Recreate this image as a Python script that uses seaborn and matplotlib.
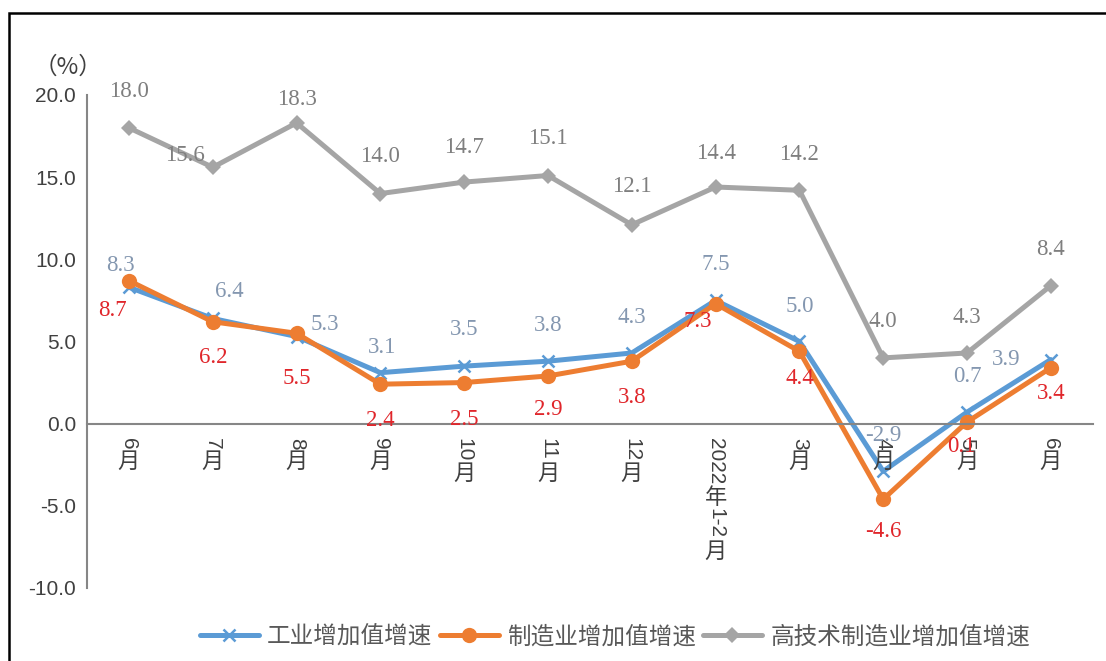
import numpy as np
import pandas as pd
import matplotlib
matplotlib.use("Agg")
import matplotlib.pyplot as plt
import seaborn as sns
from matplotlib.lines import Line2D
from matplotlib.patches import Rectangle

# Data
months = ["6月", "7月", "8月", "9月", "10月", "11月", "12月",
          "2022年1-2月", "3月", "4月", "5月", "6月"]
industry = [8.3, 6.4, 5.3, 3.1, 3.5, 3.8, 4.3, 7.5, 5.0, -2.9, 0.7, 3.9]
manufacturing = [8.7, 6.2, 5.5, 2.4, 2.5, 2.9, 3.8, 7.3, 4.4, -4.6, 0.1, 3.4]
hightech = [18.0, 15.6, 18.3, 14.0, 14.7, 15.1, 12.1, 14.4, 14.2, 4.0, 4.3, 8.4]
series_names = ["工业增加值增速", "制造业增加值增速", "高技术制造业增加值增速"]
y_ticks = [-10.0, -5.0, 0.0, 5.0, 10.0, 15.0, 20.0]

# label offsets in pixels (dx, dy)
off_ind = [(-9, 22), (17, 27), (28, 12), (2, 25), (0, 37), (0, 36), (0, 35),
           (0, 36), (0, 35), (0, 36), (0, 36), (-45, 0)]
off_man = [(-17, -30), (0, -36), (0, -45), (0, -36), (0, -37), (0, -34),
           (0, -36), (-18, -18), (0, -27), (0, -32), (-6, -25), (0, -26)]
off_hi = [(0, 36), (-28, 12), (0, 23), (0, 37), (0, 35), (0, 37), (0, 38),
          (0, 34), (0, 36), (0, 36), (0, 35), (0, 36)]

sns.set_style("white")
plt.rcParams["font.family"] = ["Noto Sans CJK SC", "DejaVu Sans"]

x = np.arange(len(months))
df = pd.DataFrame({"x": np.tile(x, 3),
                   "value": industry + manufacturing + hightech,
                   "series": np.repeat(series_names, len(months))})

colors = {series_names[0]: "#5B9BD5", series_names[1]: "#ED7D31",
          series_names[2]: "#A5A5A5"}
markers = {series_names[0]: "x", series_names[1]: "o", series_names[2]: "D"}
msizes = {series_names[0]: 9, series_names[1]: 11, series_names[2]: 8}

fig = plt.figure(figsize=(11.06, 6.61), dpi=100)
ax = fig.add_axes([0.0787, 0.1105, 0.9093, 0.7458])

for name in [series_names[2], series_names[0], series_names[1]]:
    sub = df[df["series"] == name]
    sns.lineplot(data=sub, x="x", y="value", ax=ax, color=colors[name],
                 linewidth=3.6, marker=markers[name], markersize=msizes[name],
                 markeredgewidth=1.8 if name == series_names[0] else 0,
                 markeredgecolor=colors[name], legend=False)

ax.set_xlim(-0.5, len(months) - 0.5)
ax.set_ylim(-10, 20)
ax.set_yticks(y_ticks)
ax.set_yticklabels([f"{v:.1f}" for v in y_ticks], fontsize=15,
                   color="#404040", family="Liberation Sans")
ax.set_xlabel("")
ax.set_ylabel("")
for s in ["top", "right"]:
    ax.spines[s].set_visible(False)
ax.spines["bottom"].set_position(("data", 0))
for s in ["left", "bottom"]:
    ax.spines[s].set_color("#868686")
    ax.spines[s].set_linewidth(1.5)
ax.set_xticks(np.arange(-0.5, len(months), 1.0))
ax.set_xticklabels([])
ax.tick_params(axis="x", direction="in", length=8, width=1.5, color="#868686")
ax.tick_params(axis="y", direction="in", length=7, width=1.5, color="#868686",
               pad=8)

# vertical category labels: digits rotated, CJK upright
def segments(label):
    segs, cur = [], ""
    for ch in label:
        if ord(ch) < 128:
            cur += ch
        else:
            if cur:
                segs.append((cur, True))
                cur = ""
            segs.append((ch, False))
    if cur:
        segs.append((cur, True))
    return segs

fs = 15
for i, lab in enumerate(months):
    pos = 10.0
    for seg, rot in segments(lab):
        if rot:
            ax.annotate(seg, xy=(i, 0), xytext=(0, -pos), textcoords="offset points",
                        rotation=-90, ha="center", va="top", fontsize=fs,
                        color="#404040", family=["Liberation Sans", "DejaVu Sans"],
                        annotation_clip=False)
            pos += sum(0.36 if c == "-" else 0.58 for c in seg) * fs
        else:
            ax.annotate(seg, xy=(i, 0), xytext=(0, -pos), textcoords="offset points",
                        ha="center", va="top", fontsize=fs + 1, color="#404040",
                        annotation_clip=False)
            pos += 1.08 * fs

# data labels
def put_labels(vals, offs, color):
    for i, (v, (dx, dy)) in enumerate(zip(vals, offs)):
        ax.annotate(f"{v:.1f}", xy=(i, v), xytext=(dx * 0.72, dy * 0.72),
                    textcoords="offset points", ha="center", va="center",
                    fontsize=16.5, color=color, family="Liberation Serif",
                    annotation_clip=False)

put_labels(hightech, off_hi, "#7F7F7F")
put_labels(industry, off_ind, "#8497B0")
put_labels(manufacturing, off_man, "#E0262B")

fig.text(0.03, 0.898, "（%）", fontsize=17, color="#404040", ha="left",
         va="center")

handles = [Line2D([], [], color=colors[n], linewidth=3.6, marker=markers[n],
                  markersize=msizes[n], markeredgewidth=1.8 if n == series_names[0] else 0,
                  markeredgecolor=colors[n]) for n in series_names]
fig.legend(handles, series_names, loc="center", bbox_to_anchor=(0.556, 0.036),
           ncol=3, frameon=False, fontsize=17, handlelength=2.5,
           columnspacing=0.3, handletextpad=0.35, labelcolor="#595959")

# outer frame
fig.patches.append(Rectangle((0.008, -0.05), 1.2, 1.03, transform=fig.transFigure,
                             fill=False, edgecolor="black", linewidth=1.8))

fig.savefig("out.png", dpi=100)
